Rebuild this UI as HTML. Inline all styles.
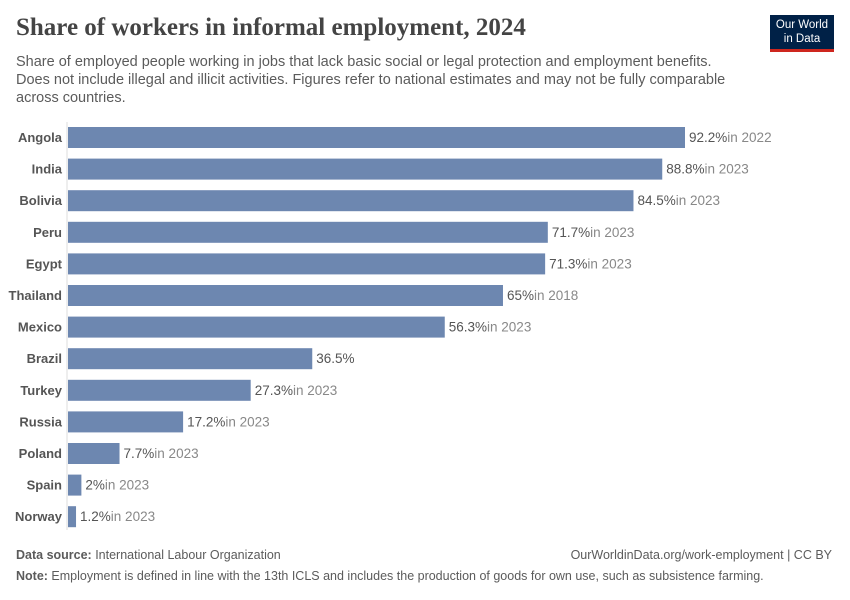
<!DOCTYPE html>
<html><head><meta charset="utf-8"><style>
body{margin:0;width:850px;height:600px;background:#fff;font-family:"Liberation Sans",sans-serif;position:relative;overflow:hidden}
.t{position:absolute;white-space:nowrap}
</style></head><body>
<div class="t" style="left:16px;top:14px;font-family:'Liberation Serif',serif;font-size:25px;font-weight:bold;color:#444">Share of workers in informal employment, 2024</div>
<div class="t" style="left:16px;top:53px;font-size:14.5px;line-height:18px;color:#5b5b5b;white-space:normal;width:720px">Share of employed people working in jobs that lack basic social or legal protection and employment benefits. Does not include illegal and illicit activities. Figures refer to national estimates and may not be fully comparable across countries.</div>
<div style="position:absolute;left:770px;top:15px;width:64px;height:37px;background:#002147;border-bottom:3px solid #ce261e;color:#fff;font-size:11.5px;line-height:14px;text-align:center;padding-top:3px;box-sizing:border-box">Our World<br>in Data</div>
<svg id="chart" width="850" height="600" style="position:absolute;left:0;top:0"></svg>
<div class="t" style="left:16px;top:548px;font-size:12.5px;color:#5b5b5b"><b>Data source:</b> International Labour Organization</div>
<div class="t" style="right:18px;top:548px;font-size:12.5px;color:#5b5b5b">OurWorldinData.org/work-employment | CC BY</div>
<div class="t" style="left:16px;top:569px;font-size:12.5px;color:#5b5b5b"><b>Note:</b> Employment is defined in line with the 13th ICLS and includes the production of goods for own use, such as subsistence farming.</div>
<script>
const countries=["Angola","India","Bolivia","Peru","Egypt","Thailand","Mexico","Brazil","Turkey","Russia","Poland","Spain","Norway"];
const values=[92.2,88.8,84.5,71.7,71.3,65,56.3,36.5,27.3,17.2,7.7,2,1.2];
const years=["in 2022","in 2023","in 2023","in 2023","in 2023","in 2018","in 2023","","in 2023","in 2023","in 2023","in 2023","in 2023"];
const svg=document.getElementById('chart');const NS='http://www.w3.org/2000/svg';
const x0=68,k=(685-68)/92.2;
const xs=v=>x0+v*k;
const yc=i=>137.5+i*31.6;
function mk(t,a){const e=document.createElementNS(NS,t);for(const n in a)e.setAttribute(n,a[n]);svg.appendChild(e);return e;}
const ax=mk('line',{x1:67,x2:67,y1:122,y2:530,stroke:'#ddd','stroke-width':1});


countries.forEach((c,i)=>{
 const r=mk('rect',{x:x0,y:yc(i)-10.5,width:xs(values[i])-x0,height:21,fill:'#6d87b0'});
 
 
 const l=mk('text',{x:62,y:yc(i)+4.5,'text-anchor':'end','font-size':13,'font-weight':'bold',fill:'#555'});l.textContent=c;
 
 
 const v=mk('text',{x:xs(values[i])+4,y:yc(i)+4.5,'font-size':13.5,fill:'#555'});
 
 
 const s1=document.createElementNS(NS,'tspan');s1.textContent=values[i]+'%';v.appendChild(s1);
 const s2=document.createElementNS(NS,'tspan');s2.setAttribute('fill','#888');s2.textContent=years[i];v.appendChild(s2);
});
</script>
</body></html>
